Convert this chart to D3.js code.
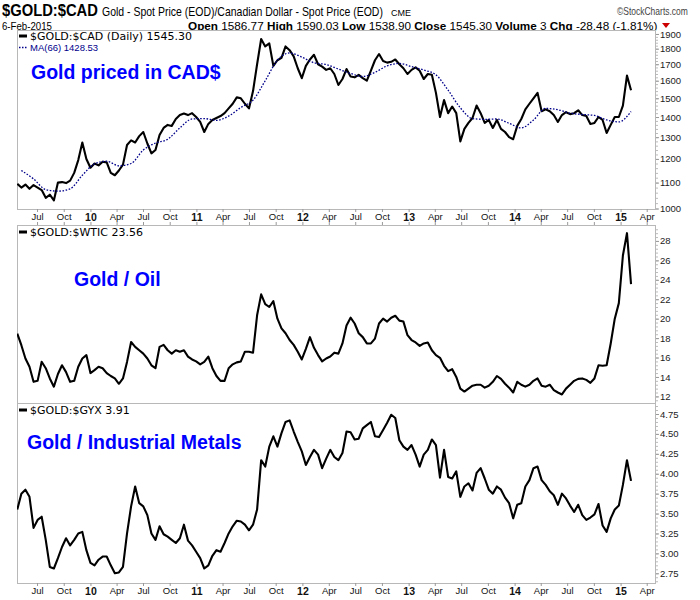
<!DOCTYPE html>
<html><head><meta charset="utf-8">
<script src="https://cdn.jsdelivr.net/npm/d3@7"></script>
<style>body{margin:0;background:#fff}</style>
</head><body><svg id="c" width="700" height="600"></svg>
<script>
// ---------- data ----------
const startDate = "2009-04-24";   // first sample, then every 14 days
const stepDays = 14;
const goldCad = [
1095,1080,1092,1075,1090,1080,1070,1040,1052,1030,
1100,1102,1098,1108,1140,1195,1275,1200,1162,1180,
1172,1188,1185,1140,1130,1150,1175,1263,1285,1275,
1305,1325,1270,1225,1240,1310,1345,1360,1355,1390,
1410,1418,1410,1420,1400,1375,1325,1365,1385,1395,
1405,1420,1445,1470,1505,1500,1470,1445,1540,1700,
1865,1815,1835,1690,1725,1740,1815,1790,1750,1675,
1615,1690,1730,1760,1700,1685,1665,1675,1640,1575,
1610,1670,1625,1620,1635,1615,1600,1660,1725,1765,
1720,1710,1715,1730,1700,1675,1640,1665,1680,1660,
1610,1640,1635,1530,1400,1490,1420,1455,1420,1280,
1340,1370,1395,1460,1420,1370,1385,1345,1385,1340,
1325,1300,1290,1355,1390,1440,1470,1500,1530,1430,
1440,1430,1410,1375,1410,1425,1415,1420,1435,1410,
1405,1365,1370,1400,1385,1320,1360,1400,1400,1460,
1630,1545.30];
// 66-day moving average, sampled every 3rd date starting at index 1
const maOffset = 1, maEvery = 3;
const ma66 = [
1150,1115,1072,1066,1075,1130,1178,1190,1170,1180,
1240,1272,1290,1345,1390,1392,1383,1405,1450,1490,
1600,1725,1772,1745,1709,1698,1670,1643,1625,1650,
1690,1705,1685,1664,1635,1545,1448,1392,1388,1390,
1368,1345,1385,1445,1438,1420,1413,1408,1385,1375,
1428.53];
const goldOil = [
18.47,17.27,15.9,15.05,13.5,13.6,15.56,14.9,13.85,13.0,
14.3,15.2,14.5,13.5,13.6,15.05,15.9,16.25,14.4,14.7,
15.05,14.9,14.4,14.1,13.85,13.3,13.85,15.55,17.6,17.1,
16.75,16.4,15.9,15.2,14.9,17.1,17.3,16.75,16.4,16.75,
16.6,16.75,16.1,15.8,15.6,15.3,15.55,16.1,14.9,14.1,
13.6,13.6,14.9,15.3,15.5,15.6,16.6,16.6,16.5,20.35,
22.5,21.5,21.2,21.8,20.0,19.0,18.5,17.8,17.3,16.6,
15.8,16.9,18.1,17.0,16.25,15.6,15.9,16.1,16.5,16.4,
17.45,19.3,20.1,19.5,18.5,18.1,17.45,17.45,17.95,19.5,
20.0,19.7,20.1,20.3,19.8,19.7,18.3,17.8,17.55,17.2,
17.45,17.55,16.75,16.25,15.97,15.15,14.6,14.8,14.0,12.8,
12.5,12.8,13.1,13.2,13.2,12.9,13.1,13.5,14.1,13.8,
13.3,12.9,12.4,13.5,13.2,13.0,13.2,13.6,13.85,13.1,
13.0,13.2,12.65,12.4,12.2,12.8,13.2,13.6,13.8,13.85,
13.7,13.4,13.85,15.2,15.15,15.2,17.45,20.0,21.6,26.5,
28.8,23.56];
const goldGyx = [
3.55,3.75,3.80,3.71,3.32,3.42,3.46,3.17,2.83,2.81,
2.94,3.08,3.19,3.10,3.17,3.25,3.27,3.04,2.88,2.85,
2.92,2.96,2.96,2.85,2.75,2.76,2.83,3.25,3.59,3.84,
3.63,3.59,3.48,3.25,3.17,3.34,3.24,3.21,3.17,3.13,
3.19,3.36,3.16,3.10,3.02,2.94,2.81,2.85,2.97,3.04,
3.02,3.13,3.25,3.34,3.41,3.40,3.36,3.29,3.36,3.55,
4.17,4.09,4.34,4.47,4.34,4.51,4.65,4.67,4.53,4.40,
4.28,4.11,4.21,4.30,4.24,4.07,4.19,4.30,4.21,4.17,
4.26,4.53,4.52,4.43,4.44,4.57,4.61,4.65,4.47,4.46,
4.55,4.64,4.74,4.70,4.42,4.34,4.30,4.36,4.24,4.09,
4.24,4.30,4.43,4.36,3.95,4.30,3.96,3.94,4.03,3.71,
3.84,3.88,3.79,4.01,4.07,3.94,3.80,3.75,3.84,3.80,
3.70,3.63,3.44,3.61,3.63,3.84,3.92,4.07,4.09,3.92,
3.86,3.78,3.73,3.61,3.75,3.69,3.60,3.52,3.61,3.48,
3.42,3.45,3.49,3.62,3.35,3.27,3.44,3.55,3.60,3.86,
4.17,3.91];
const cadTicks = [1000,1100,1200,1300,1400,1500,1600,1700,1800,1900];
const oilTicks = [12,14,16,18,20,22,24,26,28];
const gyxTicks = [2.75,3.00,3.25,3.50,3.75,4.00,4.25,4.50,4.75];
const titleSymbol = "$GOLD:$CAD";
const titleDesc = "Gold - Spot Price (EOD)/Canadian Dollar - Spot Price (EOD)";
const quote = [["Open","1586.77"],["High","1590.03"],["Low","1538.90"],["Close","1545.30"],["Volume","3"],["Chg","-28.48 (-1.81%)"]];

// ---------- layout ----------
const L = 17, R = 656;
const P = [{top:30,bottom:209},{top:225,bottom:403},{top:403,bottom:583}];
const SANS = "'Liberation Sans',Arial,sans-serif";

const svg = d3.select("#c");
const parse = d3.timeParse("%Y-%m-%d");
const t0 = parse(startDate);
const dates = goldCad.map((_, i) => d3.timeDay.offset(t0, i * stepDays));

const x = d3.scaleTime().domain([new Date(2009,3,23), new Date(2015,4,3)]).range([L, R]);
const y1 = d3.scaleLog().domain([998.2, 1928]).range([P[0].bottom, P[0].top]);
const y2 = d3.scaleLinear().domain([11.32, 29.64]).range([P[1].bottom, P[1].top]);
const y3 = d3.scaleLinear().domain([2.628, 4.888]).range([P[2].bottom, P[2].top]);

// header: condensed by horizontal scaling to the reference widths
function htext(xx, yy, w, size, txt, opts = {}) {
  const g = svg.append("g").attr("transform", `translate(${xx},${yy})`);
  const t = g.append("text").attr("x", 0).attr("y", 0)
    .attr("font-family", SANS).attr("font-size", size).style("white-space","pre")
    .attr("fill", opts.fill || "#000").attr("font-weight", opts.bold ? "bold" : "normal");
  if (txt !== null) t.text(txt); else opts.build(t);
  const w0 = t.node().getComputedTextLength();
  g.attr("transform", `translate(${xx},${yy}) scale(${w / w0},1)`);
  return t;
}
htext(2, 15.5, 96, 16.5, titleSymbol, {bold:true});
htext(102, 15.5, 281, 12, titleDesc);
htext(391, 15.5, 20, 8.5, "CME");
htext(617, 14.5, 71, 10, "\u00A9StockCharts.com", {fill:"#444"});
htext(2, 29.5, 50, 11.5, "6-Feb-2015");
htext(188, 29.5, 470, 11.5, null, {build: q => quote.forEach(([k,v],i) => {
  q.append("tspan").attr("font-weight","bold").text((i? " ":"") + k);
  q.append("tspan").text(" " + v);
})});
svg.append("path").attr("d","M662,23 L670,23 L666,28 Z").attr("fill","#c00");

// panels
const clipIds = P.map((p,i) => {
  svg.append("clipPath").attr("id","cp"+i).append("rect")
    .attr("x",L).attr("y",p.top).attr("width",R-L).attr("height",p.bottom-p.top);
  svg.append("rect").attr("x",L+0.5).attr("y",p.top+0.5).attr("width",R-L-1).attr("height",p.bottom-p.top)
    .attr("fill","#fff").attr("stroke","#b8b8b8");
  return "url(#cp"+i+")";
});

// x axes
const qTicks = d3.timeMonth.every(3).range(x.domain()[0], x.domain()[1]);
const xfmt = d => d.getMonth()===0 ? d3.timeFormat("%y")(d) : d3.timeFormat("%b")(d);
function xAxis(yPos) {
  const g = svg.append("g").attr("transform",`translate(0,${yPos})`)
    .call(d3.axisBottom(x).tickValues(qTicks).tickFormat(xfmt).tickSize(3).tickPadding(1.5));
  g.select(".domain").remove();
  g.selectAll("line").attr("stroke","#999");
  g.selectAll("text").attr("font-family",SANS).attr("fill","#111")
    .attr("font-size", d => d.getMonth()===0 ? 10.5 : 9.5)
    .attr("font-weight", d => d.getMonth()===0 ? "bold" : "normal");
}
xAxis(P[0].bottom);
xAxis(P[2].bottom);
{ // small ticks on top of panel 2
  const g = svg.append("g").attr("transform",`translate(0,${P[1].top})`)
    .call(d3.axisTop(x).tickValues(qTicks).tickFormat("").tickSize(3));
  g.select(".domain").remove(); g.selectAll("line").attr("stroke","#999");
}

// y axes (right)
function yAxis(scale, ticks, minor, fmt) {
  const gm = svg.append("g").attr("transform",`translate(${R},0)`)
    .call(d3.axisRight(scale).tickValues(minor).tickFormat("").tickSize(2));
  gm.select(".domain").remove(); gm.selectAll("line").attr("stroke","#bbb");
  const g = svg.append("g").attr("transform",`translate(${R},0)`)
    .call(d3.axisRight(scale).tickValues(ticks).tickFormat(fmt).tickSize(3).tickPadding(1));
  g.select(".domain").remove(); g.selectAll("line").attr("stroke","#999");
  g.selectAll("text").attr("font-family",SANS).attr("font-size",9.5).attr("fill","#222");
}
yAxis(y1, cadTicks, d3.range(1000,1920,20), d3.format("d"));
yAxis(y2, oilTicks, d3.range(11.6,29.6,0.4), d3.format("d"));
yAxis(y3, gyxTicks, d3.range(2.65,4.88,0.05), d3.format(".2f"));

// lines
const series = [
  {vals: goldCad, y: y1, p: 0},
  {vals: goldOil, y: y2, p: 1},
  {vals: goldGyx, y: y3, p: 2}];
series.forEach(s => {
  const line = d3.line().x((d,i)=>x(dates[i])).y(d=>s.y(d));
  svg.append("path").attr("d", line(s.vals)).attr("clip-path", clipIds[s.p])
    .attr("fill","none").attr("stroke","#000").attr("stroke-width",2.1).attr("stroke-linejoin","round");
});
const maLine = d3.line().curve(d3.curveMonotoneX)
  .x((d,k)=>x(dates[maOffset + k*maEvery])).y(d=>y1(d));
svg.append("path").attr("d", maLine(ma66)).attr("clip-path", clipIds[0])
  .attr("fill","none").attr("stroke","#00008b").attr("stroke-width",1.3).attr("stroke-dasharray","1.6,1.6");

// legends
function legend(top, label, last) {
  svg.append("line").attr("x1",19).attr("x2",27).attr("y1",top+6).attr("y2",top+6)
    .attr("stroke","#000").attr("stroke-width",3);
  svg.append("text").attr("x",30).attr("y",top+10).attr("font-family","'DejaVu Sans',Verdana,sans-serif")
    .attr("font-size",11).attr("fill","#000").text(label + " " + last);
}
legend(P[0].top, "$GOLD:$CAD (Daily)", d3.format(".2f")(goldCad[goldCad.length-1]));
legend(P[1].top+1, "$GOLD:$WTIC", d3.format(".2f")(goldOil[goldOil.length-1]));
legend(P[2].top+1, "$GOLD:$GYX", d3.format(".2f")(goldGyx[goldGyx.length-1]));
svg.append("line").attr("x1",19).attr("x2",28).attr("y1",47.5).attr("y2",47.5)
  .attr("stroke","#00008b").attr("stroke-width",1.5).attr("stroke-dasharray","1.5,1.5");
svg.append("text").attr("x",30).attr("y",51).attr("font-family",SANS).attr("font-size",9.5)
  .attr("fill","#00008b").text("MA(66) " + d3.format(".2f")(ma66[ma66.length-1]));

// annotations
const notes = [["Gold priced in CAD$",31,78.5],["Gold / Oil",74,286],["Gold / Industrial Metals",27,449]];
notes.forEach(([t,xx,yy]) => svg.append("text").attr("x",xx).attr("y",yy)
  .attr("font-family",SANS).attr("font-weight","bold").attr("font-size",19.5).attr("fill","#0000ff").text(t));
</script></body></html>
